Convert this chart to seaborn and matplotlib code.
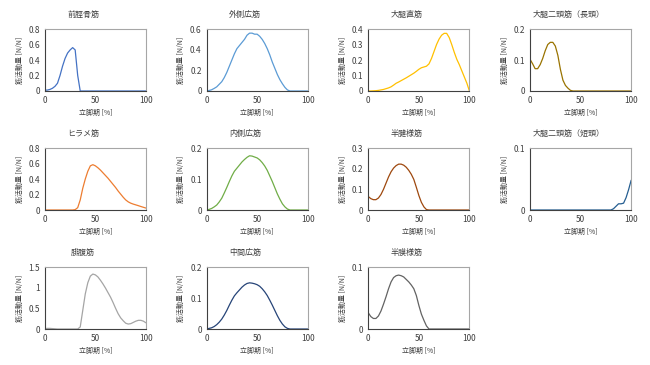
import numpy as np
import pandas as pd
import matplotlib
matplotlib.use("Agg")
import matplotlib.pyplot as plt
import seaborn as sns

# stance phase [%], sampled every 2.5 %
stance = [0, 2.5, 5, 7.5, 10, 12.5, 15, 17.5, 20, 22.5, 25, 27.5, 30, 32.5, 35, 37.5, 40,
          42.5, 45, 47.5, 50, 52.5, 55, 57.5, 60, 62.5, 65, 67.5, 70, 72.5, 75, 77.5, 80,
          82.5, 85, 87.5, 90, 92.5, 95, 97.5, 100]

tibialis_anterior = [0.01, 0.012, 0.02, 0.035, 0.06, 0.1, 0.2, 0.32, 0.42, 0.49, 0.53, 0.56, 0.53,
                     0.2, 0.0, 0, 0, 0, 0, 0, 0, 0, 0, 0, 0, 0, 0, 0, 0, 0, 0, 0, 0, 0, 0, 0, 0,
                     0, 0, 0, 0]
vastus_lateralis = [0.0, 0.005, 0.012, 0.025, 0.04, 0.065, 0.09, 0.13, 0.18, 0.24, 0.3, 0.36, 0.41,
                    0.44, 0.47, 0.5, 0.54, 0.56, 0.56, 0.55, 0.55, 0.53, 0.5, 0.46, 0.41, 0.35,
                    0.28, 0.22, 0.16, 0.11, 0.07, 0.035, 0.01, 0.0, 0, 0, 0, 0, 0, 0, 0]
rectus_femoris = [0.0, 0.0, 0.001, 0.002, 0.004, 0.007, 0.01, 0.015, 0.02, 0.027, 0.038, 0.05,
                  0.058, 0.067, 0.076, 0.085, 0.095, 0.105, 0.115, 0.127, 0.14, 0.15, 0.155,
                  0.16, 0.175, 0.21, 0.255, 0.3, 0.335, 0.36, 0.372, 0.372, 0.345, 0.3, 0.25,
                  0.205, 0.17, 0.13, 0.09, 0.05, 0.0]
biceps_long = [0.102, 0.088, 0.072, 0.072, 0.085, 0.105, 0.13, 0.15, 0.157, 0.157, 0.145, 0.115,
               0.07, 0.035, 0.018, 0.009, 0.002, 0.0, 0, 0, 0, 0, 0, 0, 0, 0, 0, 0, 0, 0, 0, 0,
               0, 0, 0, 0, 0, 0, 0, 0, 0]
soleus = [0, 0, 0, 0, 0, 0, 0, 0, 0, 0, 0, 0, 0.005, 0.03, 0.13, 0.28, 0.4, 0.5, 0.57, 0.585,
          0.57, 0.545, 0.515, 0.48, 0.445, 0.41, 0.37, 0.33, 0.29, 0.245, 0.205, 0.165, 0.13,
          0.105, 0.088, 0.076, 0.066, 0.056, 0.045, 0.035, 0.025]
vastus_medialis = [0.0, 0.002, 0.005, 0.01, 0.016, 0.026, 0.038, 0.055, 0.073, 0.092, 0.11, 0.125,
                   0.135, 0.145, 0.155, 0.163, 0.17, 0.175, 0.174, 0.171, 0.168, 0.162, 0.153,
                   0.142, 0.128, 0.11, 0.092, 0.072, 0.052, 0.035, 0.02, 0.01, 0.003, 0.0, 0, 0,
                   0, 0, 0, 0, 0]
semitendinosus = [0.065, 0.055, 0.05, 0.05, 0.058, 0.075, 0.1, 0.13, 0.16, 0.185, 0.203, 0.215,
                  0.222, 0.222, 0.217, 0.207, 0.192, 0.173, 0.148, 0.11, 0.07, 0.037, 0.015,
                  0.002, 0.0, 0, 0, 0, 0, 0, 0, 0, 0, 0, 0, 0, 0, 0, 0, 0, 0]
biceps_short = [0, 0, 0, 0, 0, 0, 0, 0, 0, 0, 0, 0, 0, 0, 0, 0, 0, 0, 0, 0, 0, 0, 0, 0, 0, 0, 0,
                0, 0, 0, 0, 0, 0, 0.002, 0.006, 0.01, 0.01, 0.011, 0.02, 0.033, 0.048]
gastrocnemius = [0.01, 0.015, 0.015, 0.01, 0.005, 0, 0, 0, 0, 0, 0, 0, 0, 0, 0.05, 0.45, 0.85,
                 1.12, 1.28, 1.33, 1.31, 1.26, 1.18, 1.09, 0.99, 0.88, 0.77, 0.64, 0.5, 0.37,
                 0.27, 0.2, 0.14, 0.12, 0.13, 0.16, 0.19, 0.21, 0.21, 0.19, 0.15]
vastus_intermedius = [0.0, 0.002, 0.004, 0.008, 0.014, 0.022, 0.032, 0.045, 0.06, 0.077, 0.093,
                      0.107, 0.117, 0.126, 0.135, 0.142, 0.147, 0.149, 0.148, 0.146, 0.143,
                      0.138, 0.13, 0.12, 0.108, 0.093, 0.077, 0.06, 0.043, 0.028, 0.016, 0.007,
                      0.002, 0, 0, 0, 0, 0, 0, 0, 0]
semimembranosus = [0.026, 0.02, 0.017, 0.017, 0.021, 0.029, 0.04, 0.052, 0.065, 0.076, 0.083,
                   0.086, 0.087, 0.086, 0.084, 0.08, 0.076, 0.071, 0.065, 0.054, 0.038, 0.024,
                   0.014, 0.005, 0.0, 0, 0, 0, 0, 0, 0, 0, 0, 0, 0, 0, 0, 0, 0, 0, 0]

titles = ["前脛骨筋", "外側広筋", "大腿直筋", "大腿二頭筋（長頭）",
          "ヒラメ筋", "内側広筋", "半腱様筋", "大腿二頭筋（短頭）",
          "腓腹筋", "中間広筋", "半膜様筋"]
series = [tibialis_anterior, vastus_lateralis, rectus_femoris, biceps_long,
          soleus, vastus_medialis, semitendinosus, biceps_short,
          gastrocnemius, vastus_intermedius, semimembranosus]
y_max = [0.8, 0.6, 0.4, 0.2, 0.8, 0.2, 0.3, 0.1, 1.5, 0.2, 0.1]
y_step = [0.2, 0.2, 0.1, 0.1, 0.2, 0.1, 0.1, 0.1, 0.5, 0.1, 0.1]
colors = ["#4472C4", "#5B9BD5", "#FFC000", "#997300", "#ED7D31", "#70AD47",
          "#9E480E", "#255E91", "#A5A5A5", "#264478", "#636363"]

sns.set_style("white")
plt.rcParams["font.family"] = ["Noto Sans CJK JP", "DejaVu Sans"]

fig, axes = plt.subplots(3, 4, figsize=(6.5, 3.65), dpi=100)
fig.subplots_adjust(left=0.069, right=0.971, top=0.9205, bottom=0.0986,
                    wspace=0.6, hspace=0.92)

for i, ax in enumerate(axes.flat):
    if i >= len(series):
        ax.remove()
        continue
    df = pd.DataFrame({"stance": stance, "value": series[i]})
    sns.lineplot(data=df, x="stance", y="value", ax=ax, color=colors[i], linewidth=0.9)
    ax.set_xlim(0, 100)
    ax.set_ylim(0, y_max[i])
    ax.set_xticks([0, 50, 100])
    yt = np.round(np.arange(0, y_max[i] + 1e-9, y_step[i]), 2)
    ax.set_yticks(yt)
    ax.set_yticklabels([f"{v:g}" for v in yt])
    ax.tick_params(length=0, labelsize=6, colors="#404040", pad=3.5)
    ax.set_xlabel("立脚期 [%]", fontsize=5, color="#404040", labelpad=3)
    ax.set_ylabel("筋活動量 [N/N]", fontsize=5, color="#404040", labelpad=3.5)
    for side in ["top", "right"]:
        ax.spines[side].set_color("#A6A6A6")
        ax.spines[side].set_linewidth(0.8)
    for side in ["left", "bottom"]:
        ax.spines[side].set_color("#404040")
        ax.spines[side].set_linewidth(0.8)
    ax.text(0.38, 1.24, titles[i], transform=ax.transAxes, ha="center", va="center",
            fontsize=5.8, color="#404040")

fig.savefig("out.png", dpi=100)
